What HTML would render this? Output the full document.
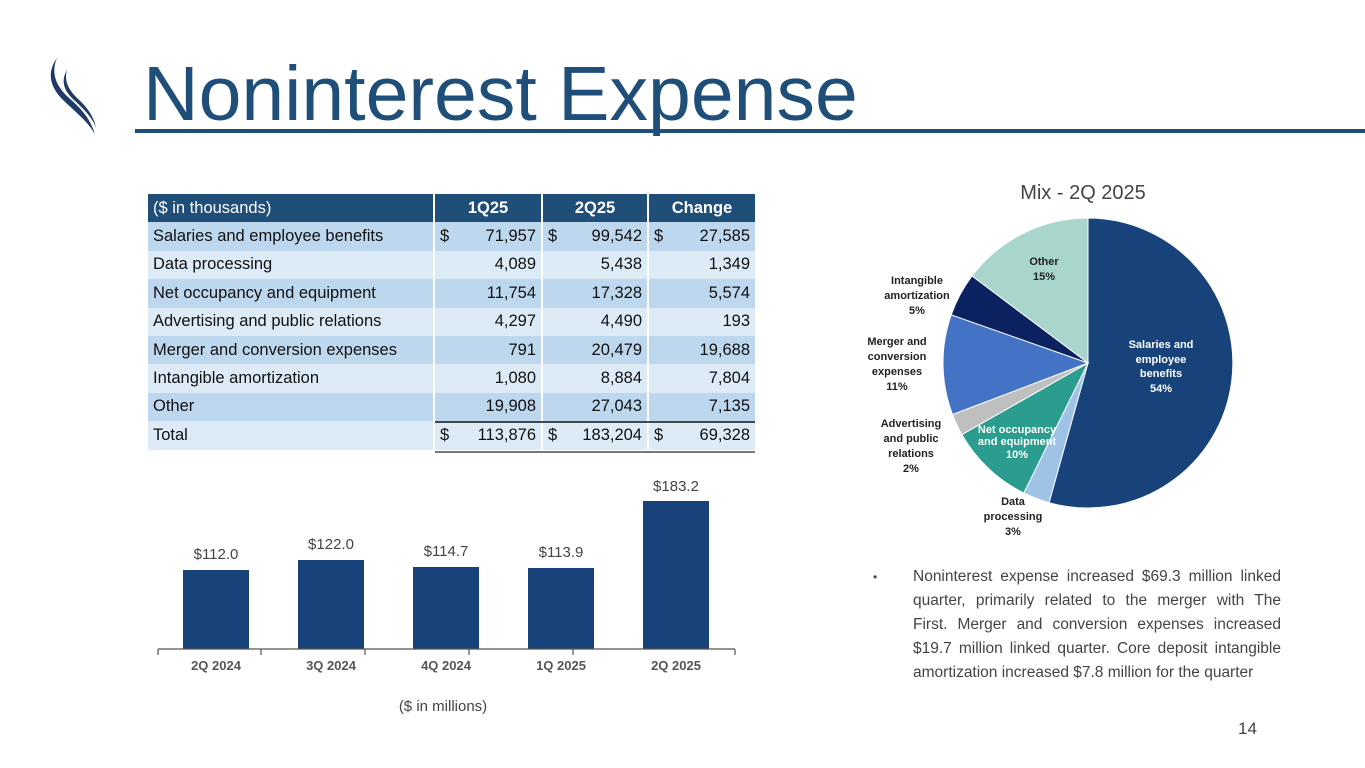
<!DOCTYPE html>
<html><head><meta charset="utf-8"><style>
body{margin:0;width:1365px;height:768px;background:#fff;position:relative;overflow:hidden;font-family:"Liberation Sans",sans-serif}
.t{position:absolute;white-space:nowrap}
table{position:absolute;left:148px;top:194px;border-collapse:collapse;font-size:16.5px;color:#111}
td{height:28.4px;padding:0 5px;border-left:2px solid #fff}
td:first-child{border-left:none;width:275px}
td.n{width:96px;text-align:right}
td.m{width:94px}
tr.h td{background:#1f4e79;color:#fff;font-weight:bold;text-align:center}
tr.h td:first-child{font-weight:normal;text-align:left}
tr.a td{background:#bdd7ee}
tr.b td{background:#ddebf7}
.d{float:left}
.bl{position:absolute;left:913px;width:368px;font-size:15.5px;color:#444;text-align:justify;text-align-last:justify;white-space:nowrap}
</style></head><body>
<svg class="t" style="left:0;top:0" width="1365" height="140">
<path d="M57 58 C47 72 49 86 63 100 C80 116 90 124 95 135 C91 120 83 110 68 97 C55 85 51 72 57 58Z" fill="#1f3a66"/>
<path d="M67 70 C61 80 63 90 74 100 C86 111 93 119 96 128 C94 116 86 106 77 98 C68 89 64 80 67 70Z" fill="#1f3a66"/>
<rect x="135" y="129" width="1230" height="4" fill="#1f4e79"/>
</svg>
<div class="t" style="left:143px;top:56px;font-size:77px;color:#1f4e79;line-height:77px">Noninterest Expense</div>
<table>
<tr class="h"><td>($ in thousands)</td><td class="n" style="text-align:center">1Q25</td><td class="n m" style="text-align:center">2Q25</td><td class="n" style="text-align:center">Change</td></tr>
<tr class="a"><td>Salaries and employee benefits</td><td class="n"><span class="d">$</span>71,957</td><td class="n m"><span class="d">$</span>99,542</td><td class="n"><span class="d">$</span>27,585</td></tr>
<tr class="b"><td>Data processing</td><td class="n">4,089</td><td class="n m">5,438</td><td class="n">1,349</td></tr>
<tr class="a"><td>Net occupancy and equipment</td><td class="n">11,754</td><td class="n m">17,328</td><td class="n">5,574</td></tr>
<tr class="b"><td>Advertising and public relations</td><td class="n">4,297</td><td class="n m">4,490</td><td class="n">193</td></tr>
<tr class="a"><td>Merger and conversion expenses</td><td class="n">791</td><td class="n m">20,479</td><td class="n">19,688</td></tr>
<tr class="b"><td>Intangible amortization</td><td class="n">1,080</td><td class="n m">8,884</td><td class="n">7,804</td></tr>
<tr class="a"><td>Other</td><td class="n">19,908</td><td class="n m">27,043</td><td class="n">7,135</td></tr>
<tr class="b"><td>Total</td><td class="n"><span class="d">$</span>113,876</td><td class="n m"><span class="d">$</span>183,204</td><td class="n"><span class="d">$</span>69,328</td></tr>
</table>
<svg class="t" style="left:0;top:0" width="1365" height="768" font-family="Liberation Sans, sans-serif">
<line x1="435" y1="422" x2="755" y2="422" stroke="#111" stroke-width="1.5"/>
<line x1="435" y1="452" x2="755" y2="452" stroke="#777" stroke-width="2"/>
<g fill="#17437a">
<rect x="183" y="570" width="66" height="79"/><rect x="298" y="560" width="66" height="89"/>
<rect x="413" y="567" width="66" height="82"/><rect x="528" y="568" width="66" height="81"/>
<rect x="643" y="501" width="66" height="148"/></g>
<g stroke="#555" stroke-width="1.2"><line x1="158" y1="649" x2="735" y2="649"/>
<line x1="158" y1="649" x2="158" y2="655"/><line x1="261" y1="649" x2="261" y2="655"/><line x1="365" y1="649" x2="365" y2="655"/><line x1="469" y1="649" x2="469" y2="655"/><line x1="573" y1="649" x2="573" y2="655"/><line x1="735" y1="649" x2="735" y2="655"/></g>
<g font-size="15" fill="#444" text-anchor="middle">
<text x="216" y="559">$112.0</text><text x="331" y="549">$122.0</text><text x="446" y="556">$114.7</text><text x="561" y="557">$113.9</text><text x="676" y="491">$183.2</text>
<text x="443" y="711">($ in millions)</text></g>
<g font-size="13" fill="#555" font-weight="bold" text-anchor="middle">
<text x="216" y="670">2Q 2024</text><text x="331" y="670">3Q 2024</text><text x="446" y="670">4Q 2024</text><text x="561" y="670">1Q 2025</text><text x="676" y="670">2Q 2025</text></g>
<text x="1083" y="199" font-size="20" fill="#444" text-anchor="middle">Mix - 2Q 2025</text>
<g stroke="#fff" stroke-width="1">
<path d="M1088 363 L1088 218 A145 145 0 1 1 1049 502.7Z" fill="#17437a"/>
<path d="M1088 363 L1049 502.7 A145 145 0 0 1 1023.8 493Z" fill="#9fc3e7"/>
<path d="M1088 363 L1023.8 493 A145 145 0 0 1 961.9 434.6Z" fill="#2a9d8f"/>
<path d="M1088 363 L961.9 434.6 A145 145 0 0 1 952.5 414.5Z" fill="#bfbfbf"/>
<path d="M1088 363 L952.5 414.5 A145 145 0 0 1 951.2 314.8Z" fill="#4472c4"/>
<path d="M1088 363 L951.2 314.8 A145 145 0 0 1 972 275.9Z" fill="#0b2160"/>
<path d="M1088 363 L972 275.9 A145 145 0 0 1 1088 218Z" fill="#a8d5cc"/></g>
<g font-size="11" font-weight="bold" text-anchor="middle" fill="#222">
<text x="1044" y="265">Other</text><text x="1044" y="280">15%</text>
<text x="917" y="284">Intangible</text><text x="917" y="299">amortization</text><text x="917" y="314">5%</text>
<text x="897" y="345">Merger and</text><text x="897" y="360">conversion</text><text x="897" y="375">expenses</text><text x="897" y="390">11%</text>
<text x="911" y="427">Advertising</text><text x="911" y="442">and public</text><text x="911" y="457">relations</text><text x="911" y="472">2%</text>
<text x="1013" y="505">Data</text><text x="1013" y="520">processing</text><text x="1013" y="535">3%</text>
<g fill="#fff"><text x="1161" y="348">Salaries and</text><text x="1161" y="363">employee</text><text x="1161" y="377">benefits</text><text x="1161" y="392">54%</text>
<text x="1017" y="433">Net occupancy</text><text x="1017" y="445">and equipment</text><text x="1017" y="458">10%</text></g></g>
</svg>
<div class="t" style="left:873px;top:570px;font-size:12px;color:#444">•</div>
<div class="bl" style="top:568px">Noninterest expense increased $69.3 million linked</div>
<div class="bl" style="top:592px">quarter, primarily related to the merger with The</div>
<div class="bl" style="top:616px">First. Merger and conversion expenses increased</div>
<div class="bl" style="top:640px">$19.7 million linked quarter. Core deposit intangible</div>
<div class="bl" style="top:664px;text-align-last:left">amortization increased $7.8 million for the quarter</div>
<div class="t" style="left:1238px;top:719px;font-size:17px;color:#444">14</div>
</body></html>
